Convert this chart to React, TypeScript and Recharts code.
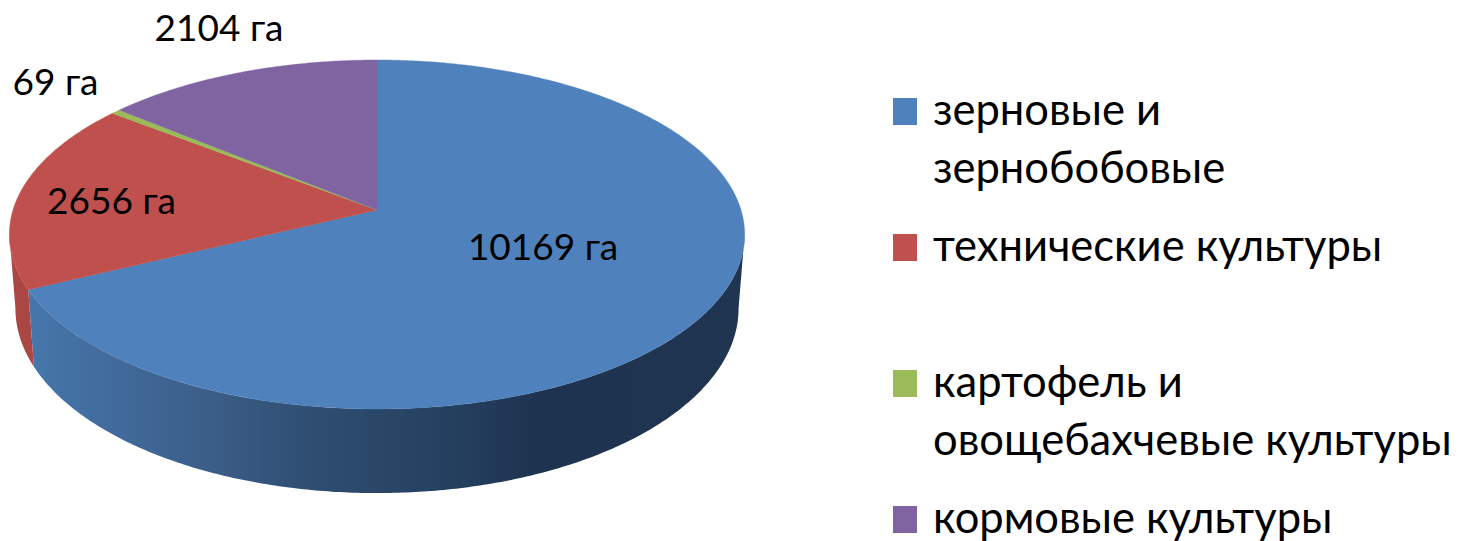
import React from 'react';
import { PieChart, Pie, Legend } from 'recharts';

const categories = ['зерновые и зернобобовые', 'технические культуры', 'картофель и овощебахчевые культуры', 'кормовые культуры'];
const areas = [10169, 2656, 69, 2104];
const valueLabels = ['10169 га', '2656 га', '69 га', '2104 га'];
const colors = ['#4f81bd', '#c0504d', '#9bbb59', '#8064a2'];
const data = categories.map((name, i) => ({ name, value: areas[i], fill: colors[i] }));

const FONT = 'Lato, "Noto Sans", sans-serif';
const FONT_SIZE = 37;
const LEGEND_FONT_SIZE = 43.5;
const CX = 377;
const CY = 210;
const RADIUS = 364;
const labelAnchors = [[543, 260], [111.5, 214], [55.5, 95], [219, 41]];

// Perspective projection of the pie disc: top rim and lower rim.
const K = 0.1404;
const SQUASH = 0.47;
const rim = (cx: number, cy: number, r: number, theta: number) => {
  const x = Math.sin(theta);
  const y = -Math.cos(theta);
  const d = 1 - K * y;
  return [cx + (r * x) / d, cy + (r * SQUASH * y) / d];
};
const lowerRim = (cx: number, cy: number, r: number, theta: number) => {
  const x = Math.sin(theta);
  const y = -Math.cos(theta);
  const d = 1 - K * y;
  return [cx + (r * 0.9835 * x) / d, cy + 72.5 + (r * 0.4973 * y) / d];
};
const WALL_FROM = (98 * Math.PI) / 180;
const WALL_TO = (262 * Math.PI) / 180;
const wallFill = ['url(#wallBlue)', '#aa4745', '#86a24c', '#6d5589'];

const toPath = (pts: number[][]) => pts.map((p, i) => `${i ? 'L' : 'M'}${p[0].toFixed(2)} ${p[1].toFixed(2)}`).join(' ');
const sweep = (a: number, b: number) => {
  const n = Math.max(2, Math.ceil(Math.abs(b - a) / 0.01));
  return Array.from({ length: n + 1 }, (_, i) => a + ((b - a) * i) / n);
};

const Slice3D = (props: any) => {
  const { cx, cy, outerRadius, startAngle, endAngle, fill, index } = props;
  const t0 = ((90 - startAngle) * Math.PI) / 180;
  const t1 = ((90 - endAngle) * Math.PI) / 180;
  const top = sweep(t0, t1).map((t) => rim(cx, cy, outerRadius, t));
  const w0 = Math.max(t0, WALL_FROM);
  const w1 = Math.min(t1, WALL_TO);
  let wall = null;
  if (w1 > w0) {
    const angles = sweep(w0, w1);
    const upper = angles.map((t) => rim(cx, cy, outerRadius, t));
    const lower = angles.slice().reverse().map((t) => lowerRim(cx, cy, outerRadius, t));
    wall = <path d={`${toPath(upper.concat(lower))} Z`} fill={wallFill[index]} stroke="none" />;
  }
  return (
    <g>
      <defs>
        <linearGradient id="wallBlue" gradientUnits="userSpaceOnUse" x1="9" y1="0" x2="745" y2="0">
          <stop offset="0.03" stopColor="#4676ab" />
          <stop offset="0.26" stopColor="#3c5f8a" />
          <stop offset="0.42" stopColor="#2e4d70" />
          <stop offset="0.6" stopColor="#25405f" />
          <stop offset="0.72" stopColor="#1d3350" />
          <stop offset="1" stopColor="#1f3550" />
        </linearGradient>
      </defs>
      {wall}
      <path d={`M${cx} ${cy} ${toPath(top).replace('M', 'L')} Z`} fill={fill} stroke={fill} strokeWidth={0.4} />
    </g>
  );
};

const renderLabel = (props: any) => {
  const [x, y] = labelAnchors[props.index];
  return (
    <text key={props.index} x={x} y={y} textAnchor="middle" fontFamily={FONT} fontSize={FONT_SIZE} fill="#000">
      {valueLabels[props.index]}
    </text>
  );
};

const renderLegend = (props: any) => (
  <svg width={1458} height={541} style={{ position: 'absolute', left: 0, top: 0 }}>
    {(props.payload || []).map((item: any, i: number) => {
      const lines = String(item.value).split(/(?<= и) /);
      const bottom = 125 + i * 136;
      return (
        <g key={i}>
          <rect x={893} y={bottom - 27} width={24} height={27} fill={item.color} />
          {lines.map((line: string, j: number) => (
            <text key={j} x={933} y={bottom + j * 58} fontFamily={FONT} fontSize={LEGEND_FONT_SIZE} fill="#000">
              {line}
            </text>
          ))}
        </g>
      );
    })}
  </svg>
);

export default function App() {
  return (
    <div style={{ position: 'absolute', left: 0, top: 0, width: 1458, height: 541, background: '#fff' }}>
      <PieChart width={1458} height={541} margin={{ top: 0, right: 0, bottom: 0, left: 0 }}>
        <Pie
          data={data}
          dataKey="value"
          nameKey="name"
          cx={CX}
          cy={CY}
          innerRadius={0}
          outerRadius={RADIUS}
          startAngle={90}
          endAngle={-270}
          stroke="none"
          isAnimationActive={false}
          shape={Slice3D}
          label={renderLabel}
          labelLine={false}
        />
        <Legend
          content={renderLegend}
          itemSorter={null}
          wrapperStyle={{ position: 'absolute', left: 0, top: 0, width: 1458, height: 0 }}
        />
      </PieChart>
    </div>
  );
}
